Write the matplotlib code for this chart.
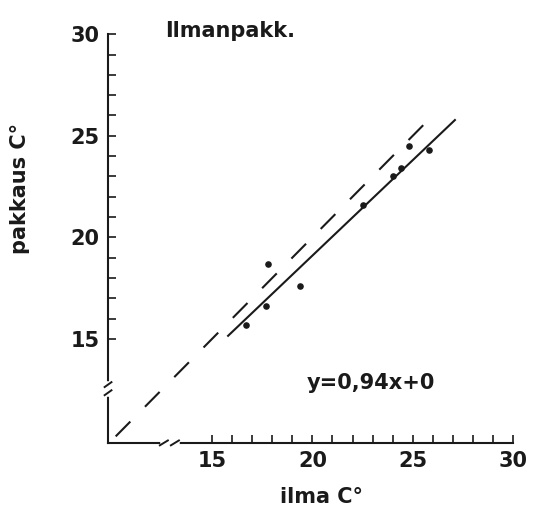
import numpy as np
import matplotlib
matplotlib.use('Agg')
from matplotlib import pyplot as plt
from matplotlib.ticker import FixedLocator, NullFormatter

# ilma (x) vs pakkaus (y) temperatures
ilma = [16.7, 17.7, 17.8, 19.4, 22.5, 24.0, 24.4, 24.8, 25.8]
pakkaus = [15.7, 16.6, 18.7, 17.6, 21.6, 23.0, 23.4, 24.5, 24.3]

slope = 0.94
intercept = 0.3   # printed rounded as "+0"
fit_x = [15.8, 27.1]
ref_x = [10.2, 25.9]

major_ticks = [15, 20, 25, 30]
minor_ticks = [v for v in range(15, 31) if v not in major_ticks]

plt.rcParams['font.family'] = ['DejaVu Sans']
plt.rcParams['font.weight'] = 'bold'

fig = plt.figure(figsize=(5.43, 5.18), dpi=100)
ax = fig.add_axes([0.199, 0.145, 0.746, 0.789])
x0, y0 = 9.82, 9.88
ax.set_xlim(x0, 30)
ax.set_ylim(y0, 30)

ax.scatter(ilma, pakkaus, s=14, color='#1a1a1a', zorder=3)

fx = np.array(fit_x)
ax.plot(fx, slope * fx + intercept, color='#1a1a1a', lw=1.5)
rx = np.array(ref_x)
ax.plot(rx, rx, color='#1a1a1a', lw=1.5, dashes=(10, 10))

for side in ['top', 'right']:
    ax.spines[side].set_visible(False)
for side in ['left', 'bottom']:
    ax.spines[side].set_linewidth(1.5)
    ax.spines[side].set_color('#1a1a1a')

for axis in [ax.xaxis, ax.yaxis]:
    axis.set_major_locator(FixedLocator(major_ticks))
    axis.set_minor_locator(FixedLocator(minor_ticks))
    axis.set_minor_formatter(NullFormatter())
ax.tick_params(which='both', direction='in', length=5.5, width=1.2,
               color='#1a1a1a', labelsize=15, pad=6)
for lab in ax.get_xticklabels() + ax.get_yticklabels():
    lab.set_fontweight('bold')
    lab.set_color('#1a1a1a')

# axis breaks
k = '#1a1a1a'
ax.plot([x0, x0], [12.3, 12.8], color='white', lw=4, clip_on=False, zorder=4)
for yb in [12.35, 12.75]:
    ax.plot([x0 - 0.17, x0 + 0.17], [yb - 0.12, yb + 0.12], color=k, lw=1.4,
            clip_on=False, zorder=5)
ax.plot([12.55, 13.25], [y0, y0], color='white', lw=4, clip_on=False, zorder=4)
for xb in [12.6, 13.15]:
    ax.plot([xb - 0.2, xb + 0.2], [y0 - 0.12, y0 + 0.12], color=k, lw=1.4,
            clip_on=False, zorder=5)

ax.text(22.9, 12.85, 'y=0,94x+0', fontsize=15, fontweight='bold',
        ha='center', va='center', color=k)

fig.text(165 / 543, 1 - 31 / 518, 'Ilmanpakk.', fontsize=15, fontweight='bold',
         ha='left', va='center', color=k)
fig.text(20 / 543, 1 - 188 / 518, 'pakkaus C°', fontsize=15, fontweight='bold',
         rotation=90, ha='center', va='center', color=k)
fig.text(321 / 543, 1 - 497 / 518, 'ilma C°', fontsize=15, fontweight='bold',
         ha='center', va='center', color=k)

fig.savefig('out.png', dpi=100)
